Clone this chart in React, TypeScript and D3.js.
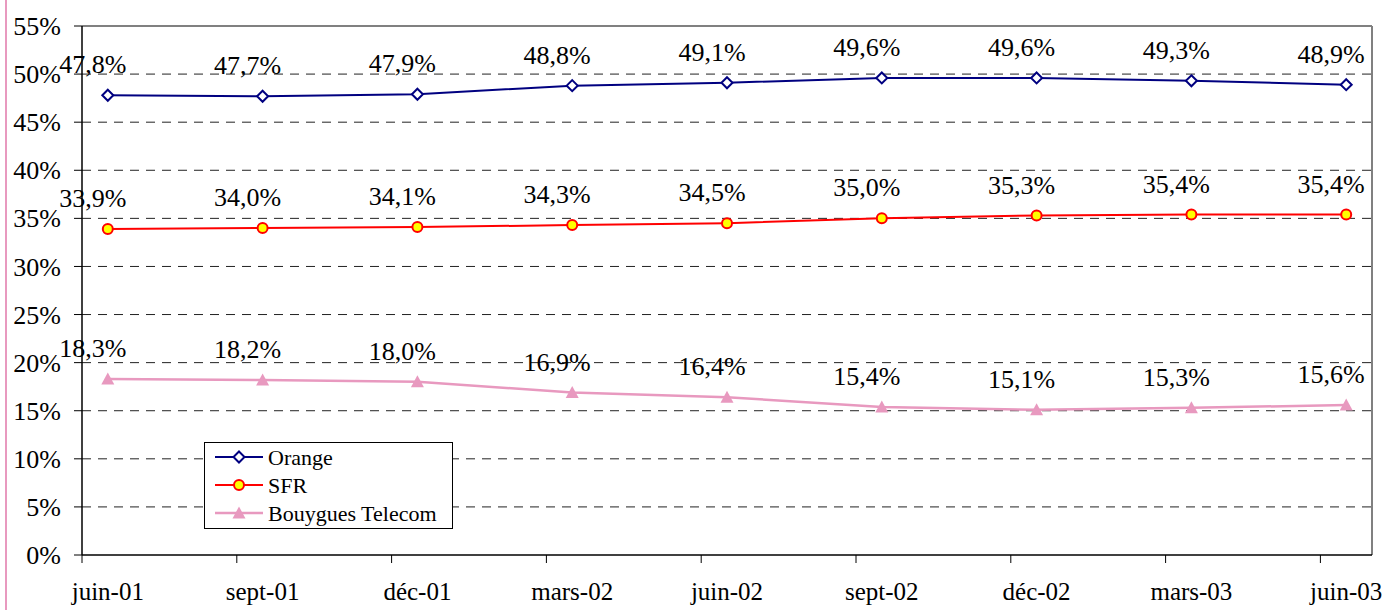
import React from "react";
import * as d3 from "d3";

const categories = ["juin-01", "sept-01", "déc-01", "mars-02", "juin-02", "sept-02", "déc-02", "mars-03", "juin-03"];
const monthIndex = [0, 3, 6, 9, 12, 15, 18, 21, 24];
const orange = [47.8, 47.7, 47.9, 48.8, 49.1, 49.6, 49.6, 49.3, 48.9];
const sfr = [33.9, 34.0, 34.1, 34.3, 34.5, 35.0, 35.3, 35.4, 35.4];
const bouygues = [18.3, 18.2, 18.0, 16.9, 16.4, 15.4, 15.1, 15.3, 15.6];
const yTicks = [0, 5, 10, 15, 20, 25, 30, 35, 40, 45, 50, 55];
const seriesNames = ["Orange", "SFR", "Bouygues Telecom"];

const W = 1386;
const H = 610;
const FONT = "Liberation Serif, Times New Roman, serif";
const NAVY = "#000080";
const RED = "#FF0000";
const YELLOW = "#FFFF00";
const PINK = "#E899BF";

const x = d3.scaleLinear().domain([0, 25]).range([82, 1372]);
const y = d3.scaleLinear().domain([0, 55]).range([555, 26]);

const fmt = (v: number) => v.toFixed(1).replace(".", ",") + "%";
const ts = { fontFamily: FONT };

function Marker({ kind, cx, cy }: { kind: string; cx: number; cy: number }) {
  if (kind === "diamond") {
    const s = 5.5;
    return (
      <path
        d={`M${cx},${cy - s}L${cx + s},${cy}L${cx},${cy + s}L${cx - s},${cy}Z`}
        fill="#fff"
        stroke={NAVY}
        strokeWidth={2}
      />
    );
  }
  if (kind === "circle") {
    return <circle cx={cx} cy={cy} r={5} fill={YELLOW} stroke={RED} strokeWidth={2} />;
  }
  const w = 6.5;
  return (
    <path
      d={`M${cx},${cy - 6.5}L${cx + w},${cy + 5.5}L${cx - w},${cy + 5.5}Z`}
      fill={PINK}
    />
  );
}

export default function App() {
  const series = [
    { name: seriesNames[0], values: orange, color: NAVY, width: 2, marker: "diamond" },
    { name: seriesNames[1], values: sfr, color: RED, width: 2, marker: "circle" },
    { name: seriesNames[2], values: bouygues, color: PINK, width: 2.5, marker: "triangle" },
  ];
  const line = d3
    .line<number>()
    .x((_, i) => x(monthIndex[i] + 0.5))
    .y((d) => y(d));

  return (
    <svg
      width={W}
      height={H}
      style={{ position: "absolute", left: 0, top: 0, background: "#fff", fontFamily: FONT }}
    >
      <rect x={0} y={0} width={W} height={H} fill="#fff" />
      <line x1={6} x2={6} y1={0} y2={H} stroke={PINK} strokeWidth={2} />

      {yTicks
        .filter((t) => t > 0 && t < 55)
        .map((t) => (
          <line
            key={"g" + t}
            x1={x(0)}
            x2={x(25)}
            y1={y(t)}
            y2={y(t)}
            stroke="#222"
            strokeWidth={1}
            strokeDasharray="9,7"
          />
        ))}

      <line x1={x(0)} x2={x(25)} y1={y(55)} y2={y(55)} stroke="#808080" strokeWidth={2} />
      <line x1={x(25)} x2={x(25)} y1={y(55)} y2={y(0)} stroke="#808080" strokeWidth={2} />

      <line x1={x(0)} x2={x(0)} y1={y(55)} y2={y(0)} stroke="#000" strokeWidth={1.5} />
      {yTicks.map((t) => (
        <g key={"yt" + t}>
          <line x1={x(0) - 8} x2={x(0)} y1={y(t)} y2={y(t)} stroke="#000" strokeWidth={1} />
          <text x={61} y={y(t)} dy="0.35em" textAnchor="end" fontSize={26} fill="#000" style={ts}>
            {t}%
          </text>
        </g>
      ))}

      <line x1={x(0)} x2={x(25)} y1={y(0)} y2={y(0)} stroke="#000" strokeWidth={1.5} />
      {monthIndex.map((m, i) => (
        <g key={"xt" + i}>
          <line x1={x(m)} x2={x(m)} y1={y(0)} y2={y(0) + 8} stroke="#000" strokeWidth={1} />
          <text x={x(m + 0.5)} y={600} textAnchor="middle" fontSize={25} fill="#000" style={ts}>
            {categories[i]}
          </text>
        </g>
      ))}

      {series.map((s) => (
        <g key={s.name}>
          <path d={line(s.values) || ""} fill="none" stroke={s.color} strokeWidth={s.width} />
          {s.values.map((v, i) => (
            <Marker key={i} kind={s.marker} cx={x(monthIndex[i] + 0.5)} cy={y(v)} />
          ))}
          {s.values.map((v, i) => (
            <text
              key={"l" + i}
              x={x(monthIndex[i] + 0.5) - 15}
              y={y(v) - 31}
              dy="0.35em"
              textAnchor="middle"
              fontSize={26}
              fill="#000"
              style={ts}
            >
              {fmt(v)}
            </text>
          ))}
        </g>
      ))}

      <g>
        <rect x={204.5} y={442.5} width={248} height={86} fill="#fff" stroke="#000" strokeWidth={1} />
        {series.map((s, i) => {
          const ly = 457 + i * 28;
          return (
            <g key={"lg" + i}>
              <line x1={215} x2={263} y1={ly} y2={ly} stroke={s.color} strokeWidth={s.width} />
              <Marker kind={s.marker} cx={239} cy={ly} />
              <text x={268} y={ly} dy="0.35em" fontSize={22} fill="#000" style={ts}>
                {s.name}
              </text>
            </g>
          );
        })}
      </g>
    </svg>
  );
}
